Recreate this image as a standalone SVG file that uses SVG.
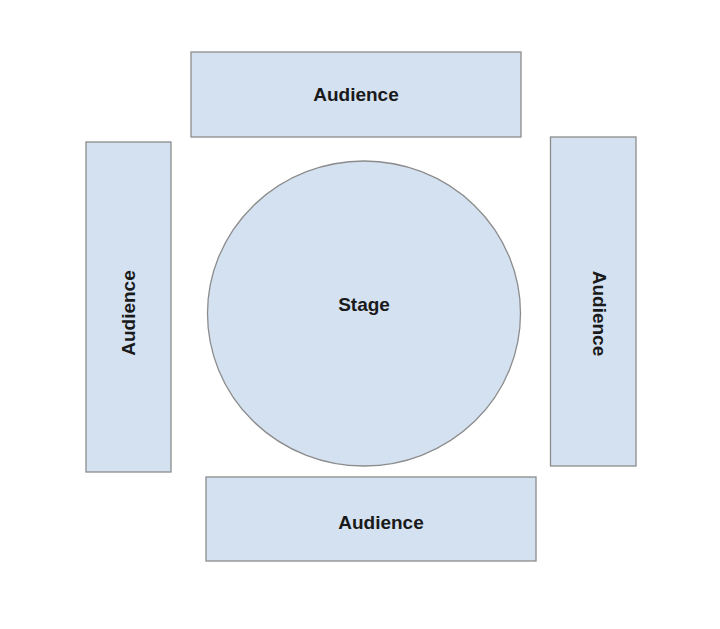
<svg xmlns="http://www.w3.org/2000/svg" width="720" height="629" viewBox="0 0 720 629">
<style>
.box{fill:#d4e1f1;stroke:#8c8c8c;stroke-width:1.3}
.lbl{font-family:"Liberation Sans",Arial,sans-serif;font-weight:bold;font-size:19px;fill:#1a1a1a;text-anchor:middle}
</style>
<rect width="720" height="629" fill="#ffffff"/>
<g id="connectors"></g>
<g id="audience-top">
<rect class="box" x="191" y="52" width="330" height="85"/>
<text class="lbl" x="356" y="101">Audience</text>
</g>
<g id="audience-left">
<rect class="box" x="86" y="142" width="85" height="330"/>
<text class="lbl" transform="translate(134.5,313) rotate(-90)">Audience</text>
</g>
<g id="audience-right">
<rect class="box" x="550.5" y="137" width="85.5" height="329"/>
<text class="lbl" transform="translate(592.5,313.5) rotate(90)">Audience</text>
</g>
<g id="audience-bottom">
<rect class="box" x="206" y="477" width="330" height="84"/>
<text class="lbl" x="381" y="529">Audience</text>
</g>
<g id="stage">
<ellipse class="box" cx="364" cy="313.5" rx="156.5" ry="152.5"/>
<text class="lbl" x="364" y="310.5">Stage</text>
</g>
</svg>
